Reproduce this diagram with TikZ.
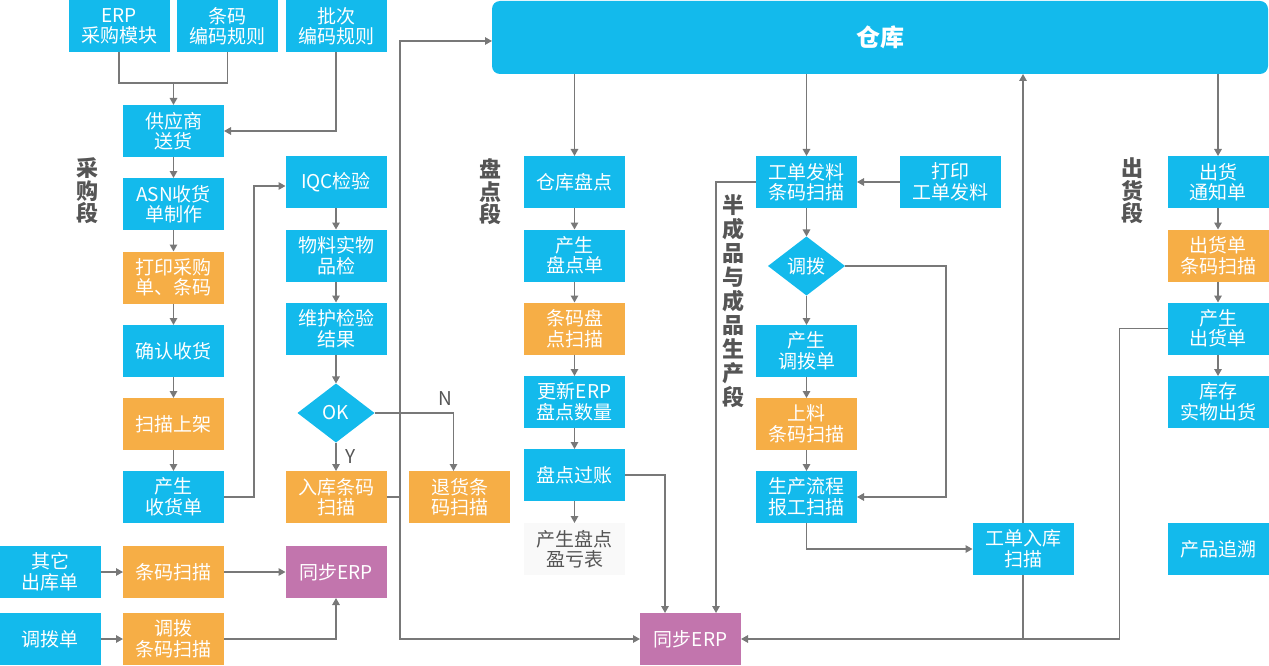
\documentclass[tikz,border=0pt]{standalone}
\usepackage{fontspec}
\setmainfont{Noto Sans CJK SC}
\usetikzlibrary{arrows.meta,shapes.geometric}
\definecolor{cblue}{RGB}{19,186,236}
\definecolor{corange}{RGB}{246,174,70}
\definecolor{cpurple}{RGB}{194,117,173}
\definecolor{cline}{RGB}{120,120,120}
\definecolor{clabel}{RGB}{85,85,85}
\definecolor{cpale}{RGB}{249,249,249}
\tikzset{
  base/.style={inner sep=0pt, outer sep=0pt, minimum width=101pt, minimum height=52pt, align=center, text=white, font=\fontsize{19}{20.5}\selectfont},
  bbox/.style={base, fill=cblue},
  obox/.style={base, fill=corange},
  pbox/.style={base, fill=cpurple},
  gbox/.style={base, fill=cpale, text=clabel},
  dia/.style={diamond, aspect=1.3, fill=cblue, text=white, inner sep=0pt, outer sep=0pt, minimum width=77pt, minimum height=59pt, font=\fontsize{19}{20.5}\selectfont},
  conn/.style={draw=cline, line width=1.4pt, -{Triangle[length=7pt,width=7.5pt]}},
  plain/.style={draw=cline, line width=1.4pt},
  sect/.style={text=clabel, font=\fontsize{22}{22.5}\selectfont\bfseries, align=center, inner sep=0pt},
  ylab/.style={text=clabel, font=\fontsize{19}{20}\selectfont, inner sep=0pt},
}
\begin{document}
\begin{tikzpicture}[x=1pt,y=-1pt]
\useasboundingbox (0,0) rectangle (1269,666);
% warehouse
\node[bbox, rounded corners=8pt, minimum width=776pt, minimum height=73pt, font=\fontsize{24}{24}\selectfont\bfseries] (ck) at (880,37.5) {仓库};
% purchasing column
\node[bbox] (erp) at (119,26.5) {ERP\\采购模块};
\node[bbox] (tmgz) at (227.5,26.5) {条码\\编码规则};
\node[bbox] (pcgz) at (336,26.5) {批次\\编码规则};
\node[bbox] (gys) at (173.5,131) {供应商\\送货};
\node[bbox] (asn) at (173.5,204) {ASN收货\\单制作};
\node[obox] (dycg) at (173.5,277.5) {打印采购\\单、条码};
\node[bbox] (qrsh) at (173.5,351) {确认收货};
\node[obox] (smsj) at (173.5,424) {扫描上架};
\node[bbox] (cssh) at (173.5,497) {产生\\收货单};
\node[bbox] (qtck) at (50,572) {其它\\出库单};
\node[obox] (tmsm) at (173.5,572) {条码扫描};
\node[bbox] (dbd) at (50,639) {调拨单};
\node[obox] (dbsm) at (173.5,639) {调拨\\条码扫描};
\node[pbox] (tb1) at (336,572) {同步ERP};
% IQC column
\node[bbox] (iqc) at (336,182) {IQC检验};
\node[bbox] (wlsw) at (336,255.5) {物料实物\\品检};
\node[bbox] (whjy) at (336,328.5) {维护检验\\结果};
\node[dia] (ok) at (336,413) {OK};
\node[obox] (rksm) at (336,497) {入库条码\\扫描};
\node[obox] (thsm) at (459.5,497) {退货条\\码扫描};
% inventory column
\node[bbox] (ckpd) at (574.5,182) {仓库盘点};
\node[bbox] (cspd) at (574.5,255.5) {产生\\盘点单};
\node[obox] (tmpd) at (574.5,328.5) {条码盘\\点扫描};
\node[bbox] (gxpd) at (574.5,402) {更新ERP\\盘点数量};
\node[bbox] (pdgz) at (574.5,475) {盘点过账};
\node[gbox] (yk) at (574.5,549) {产生盘点\\盈亏表};
\node[pbox] (tb2) at (690.5,639) {同步ERP};
% production column
\node[bbox] (gdfl) at (806.5,182) {工单发料\\条码扫描};
\node[bbox] (dygd) at (950,182) {打印\\工单发料};
\node[dia] (db) at (806.5,266) {调拨};
\node[bbox] (csdb) at (806.5,351) {产生\\调拨单};
\node[obox] (slsm) at (806.5,424) {上料\\条码扫描};
\node[bbox] (sclc) at (806.5,497) {生产流程\\报工扫描};
\node[bbox] (gdrk) at (1023,549) {工单入库\\扫描};
\node[bbox] (cpzs) at (1218,549) {产品追溯};
% shipping column
\node[bbox] (chtz) at (1218,182) {出货\\通知单};
\node[obox] (chsm) at (1218,255.5) {出货单\\条码扫描};
\node[bbox] (cschd) at (1218,328.5) {产生\\出货单};
\node[bbox] (kcch) at (1218,402) {库存\\实物出货};
% section labels
\node[sect] (l1) at (87,191) {采\\购\\段};
\node[sect] (l2) at (490,192) {盘\\点\\段};
\node[sect, font=\fontsize{22}{24}\selectfont\bfseries] (l3) at (733,301) {半\\成\\品\\与\\成\\品\\生\\产\\段};
\node[sect] (l4) at (1132,191) {出\\货\\段};
\node[ylab] (ly) at (351,457) {Y};
\node[ylab] (ln) at (445,399) {N};
% coordinates
\coordinate (j1) at (173.5,83);
\coordinate (vj) at (400,497);
\coordinate (j2) at (1023,639);
% connectors: purchasing
\draw[plain] (erp.south) |- (j1);
\draw[plain] (tmgz.south) |- (j1);
\draw[conn] (j1) -- (gys.north);
\draw[conn] (pcgz.south) |- (gys.east);
\draw[conn] (gys) -- (asn);
\draw[conn] (asn) -- (dycg);
\draw[conn] (dycg) -- (qrsh);
\draw[conn] (qrsh) -- (smsj);
\draw[conn] (smsj) -- (cssh);
\draw[conn] (cssh.east) -- ++(30,0) |- ([yshift=-4pt]iqc.west);
\draw[conn] (qtck) -- (tmsm);
\draw[conn] (dbd) -- (dbsm);
\draw[conn] (tmsm) -- (tb1);
\draw[conn] (dbsm.east) -| (tb1.south);
% IQC
\draw[conn] (iqc) -- (wlsw);
\draw[conn] (wlsw) -- (whjy);
\draw[conn] (whjy) -- (ok);
\draw[conn] (ok) -- (rksm);
\draw[conn] (ok.east) -| ([xshift=-6pt]thsm.north);
\draw[plain] (rksm.east) -- (vj);
\draw[conn] (vj) |- ([yshift=-3.5pt]ck.west);
\draw[conn] (vj) |- (tb2.west);
% inventory
\draw[conn] (ckpd.north |- ck.south) -- (ckpd.north);
\draw[conn] (ckpd) -- (cspd);
\draw[conn] (cspd) -- (tmpd);
\draw[conn] (tmpd) -- (gxpd);
\draw[conn] (gxpd) -- (pdgz);
\draw[conn] (pdgz) -- (yk);
\draw[conn] (pdgz.east) -| ([xshift=-25.5pt]tb2.north);
% production
\draw[conn] (gdfl.north |- ck.south) -- (gdfl.north);
\draw[conn] (dygd) -- (gdfl);
\draw[conn] (gdfl.west) -| ([xshift=25.5pt]tb2.north);
\draw[conn] (gdfl) -- (db);
\draw[conn] (db) -- (csdb);
\draw[conn] (csdb) -- (slsm);
\draw[conn] (slsm) -- (sclc);
\draw[conn] (db.east) -- ++(101,0) |- (sclc.east);
\draw[conn] (sclc.south) |- (gdrk.west);
\draw[conn] (gdrk.north) -- (gdrk.north |- ck.south);
\draw[plain] (gdrk.south) -- (j2);
% shipping
\draw[conn] (chtz.north |- ck.south) -- (chtz.north);
\draw[conn] (chtz) -- (chsm);
\draw[conn] (chsm) -- (cschd);
\draw[conn] (cschd) -- (kcch);
\draw[conn] (cschd.west) -- ++(-48,0) |- (tb2.east);
\end{tikzpicture}
\end{document}
